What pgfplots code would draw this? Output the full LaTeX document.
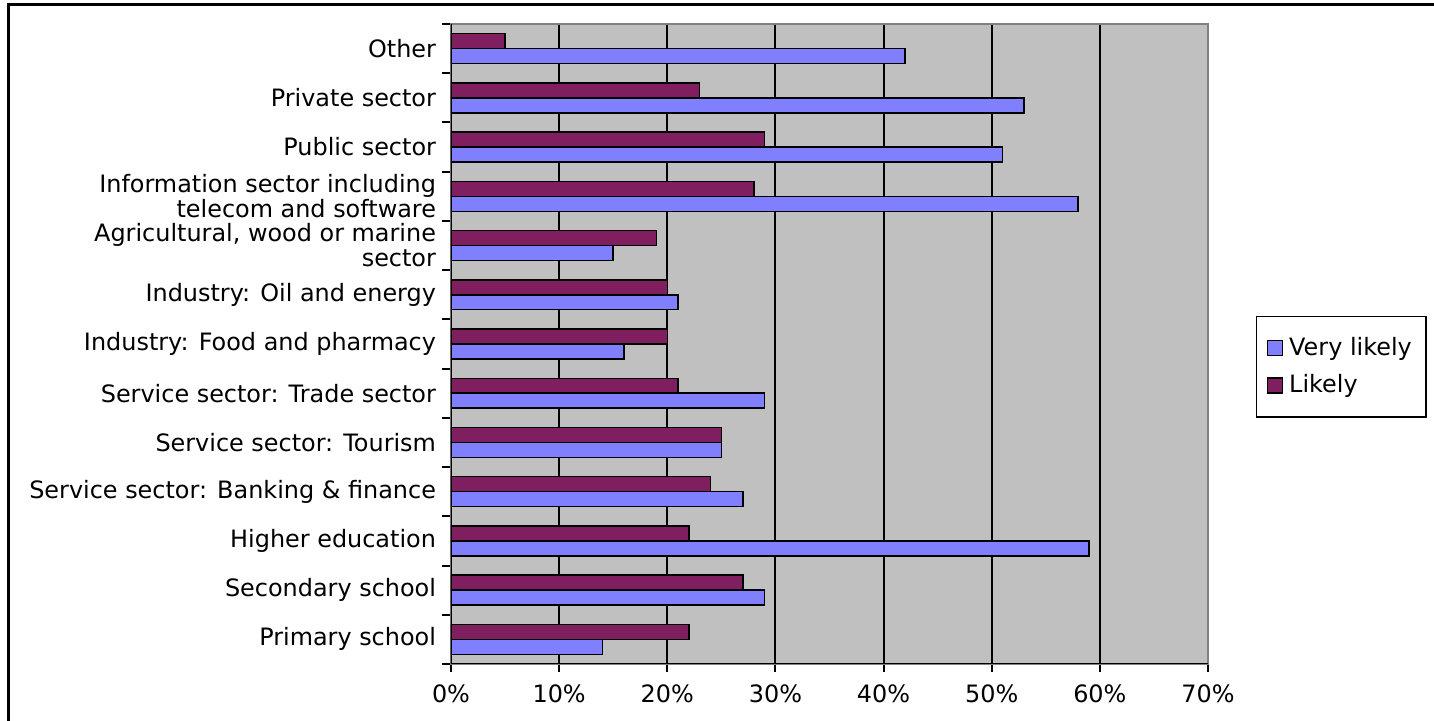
\documentclass[border=0pt]{standalone}
\usepackage{pgfplots}
\pgfplotsset{compat=1.18}
\usepackage{fontspec}
\setmainfont{DejaVu Sans}
\definecolor{vlblue}{HTML}{8080FF}
\definecolor{lpurple}{HTML}{7F1F5F}
\definecolor{plotgray}{HTML}{C0C0C0}
\definecolor{bordergray}{HTML}{808080}
\begin{document}
\begin{tikzpicture}
\path[use as bounding box, clip] (-225.5bp,-28.5bp) rectangle (491.5bp,332bp);
\draw[line width=1.5bp] (-221bp,329.5bp) rectangle (600bp,-100bp);
\begin{axis}[
  scale only axis,
  width=378.5bp, height=320bp,
  xbar,
  xmin=0, xmax=70,
  ymin=-0.5, ymax=12.5,
  axis background/.style={fill=plotgray},
  axis line style={draw=bordergray, line width=0.75bp},
  xtick={0,10,...,70},
  xticklabel={\pgfmathprintnumber{\tick}\%},
  /pgf/number format/assume math mode=true,
  xmajorgrids,
  major grid style={black, line width=1bp},
  ytick={0,...,12},
  yticklabels={{Primary school},{Secondary school},{Higher education},{Service sector: Banking \& finance},{Service sector: Tourism},{Service sector: Trade sector},{Industry: Food and pharmacy},{Industry: Oil and energy},{Agricultural, wood or marine\\sector},{Information sector including\\telecom and software},{Public sector},{Private sector},{Other}},
  minor ytick={-0.5,0.5,...,12.5},
  tick pos=left,
  tick align=outside,
  major tick length=4bp,
  minor tick length=4.5bp,
  x tick style={black, line width=1bp},
  ytick style={draw=none},
  minor y tick style={draw=black, line width=1bp},
  tick label style={font=\fontsize{12}{12.5}\selectfont},
  yticklabel style={align=right},
  xticklabel style={yshift=-3bp},
  bar width=0.304,
  legend style={at={(rel axis cs:1.0634,0.544)}, anchor=north west, draw=black, line width=0.75bp,
    font=\fontsize{12}{12.5}\selectfont, row sep=4bp, inner xsep=5bp, inner ysep=8.5bp},
  legend cell align=left,
  legend image code/.code={\draw[#1, line width=0.75bp] (1bp,-3.75bp) rectangle (8.5bp,3.75bp); \path (9.5bp,0bp);},
]
\addplot[fill=vlblue, draw=black, line width=0.75bp, bar shift=-0.152] coordinates {
 (14,0) (29,1) (59,2) (27,3) (25,4) (29,5) (16,6) (21,7) (15,8) (58,9) (51,10) (53,11) (42,12)};
\addlegendentry{Very likely}
\addplot[fill=lpurple, draw=black, line width=0.75bp, bar shift=0.152] coordinates {
 (22,0) (27,1) (22,2) (24,3) (25,4) (21,5) (20,6) (20,7) (19,8) (28,9) (29,10) (23,11) (5,12)};
\addlegendentry{Likely}
\draw[black, line width=1bp] (rel axis cs:0,1) -- (rel axis cs:0,0) -- (rel axis cs:1,0);
\end{axis}
\end{tikzpicture}
\end{document}
